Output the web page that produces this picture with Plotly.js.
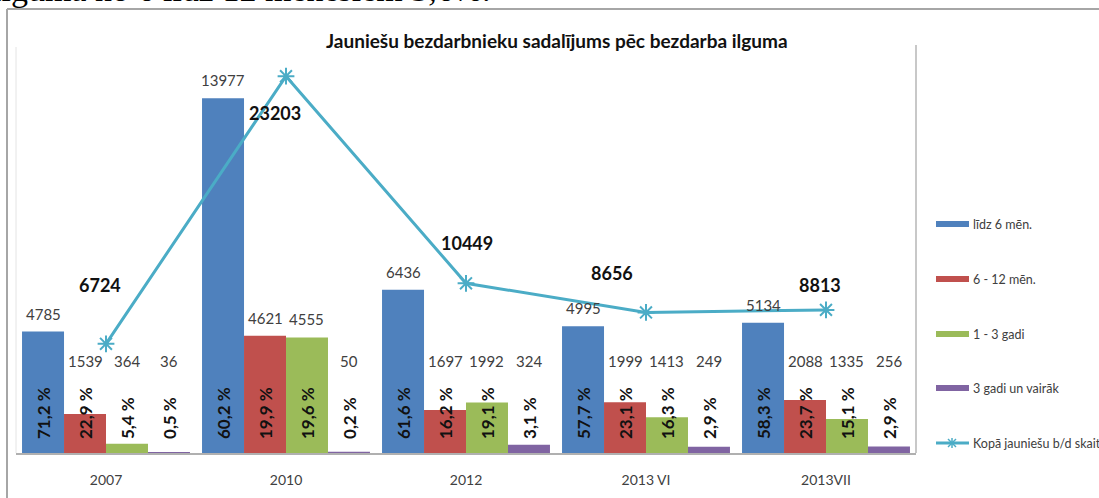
<!DOCTYPE html>
<html>
<head>
<meta charset="utf-8">
<script src="https://cdn.plot.ly/plotly-3.0.1.min.js"></script>
<style>html,body{margin:0;padding:0;background:#fff;}#chart{width:1099px;height:498px;}</style>
</head>
<body>
<div id="chart"></div>
<script>
// ---- data ----
var categories = ["2007", "2010", "2012", "2013 VI", "2013VII"];
var seriesNames = ["līdz 6 mēn.", "6 - 12 mēn.", "1 - 3 gadi", "3 gadi un vairāk"];
var lineName = "Kopā jauniešu b/d skait";
var upTo6 = [4785, 13977, 6436, 4995, 5134];
var m6to12 = [1539, 4621, 1697, 1999, 2088];
var y1to3 = [364, 4555, 1992, 1413, 1335];
var y3plus = [36, 50, 324, 249, 256];
var pctUpTo6 = ["71,2 %", "60,2 %", "61,6 %", "57,7 %", "58,3 %"];
var pct6to12 = ["22,9 %", "19,9 %", "16,2 %", "23,1 %", "23,7 %"];
var pct1to3 = ["5,4 %", "19,6 %", "19,1 %", "16,3 %", "15,1 %"];
var pct3plus = ["0,5 %", "0,2 %", "3,1 %", "2,9 %", "2,9 %"];
var totals = [6724, 23203, 10449, 8656, 8813];
var titleText = "Jauniešu bezdarbnieku sadalījums pēc bezdarba ilguma";
var topText = "ilguma no 6 līdz 12 mēnešiem 3,6%.";

// ---- style ----
var colors = ["#4F81BD", "#C0504D", "#9BBB59", "#8064A2"];
var lineColor = "#4BACC6";
var FONT = "Lato, 'Open Sans', sans-serif";
var bargap = 0.067;
var yMax = 16000, y2Max = 25000;
var labelFloor = 2900;
// total-label offsets in px (dx, dy)
var totalShift = [[-6, 59], [-11, -37], [1, 40], [-34, 39], [-6, 25]];

// plot-area pixel geometry
var L = 16, T = 47, W = 900, H = 406;
function px(x) { return (x - L) / W; }
function py(y) { return (T + H - y) / H; }

var valueSeries = [upTo6, m6to12, y1to3, y3plus];
var pctSeries = [pctUpTo6, pct6to12, pct1to3, pct3plus];

var traces = [];
for (var s = 0; s < 4; s++) {
  traces.push({
    type: "bar", name: seriesNames[s], x: categories, y: valueSeries[s],
    marker: {color: colors[s]}, showlegend: false, hoverinfo: "x+y+name"
  });
}
traces.push({
  type: "scatter", mode: "lines+markers", name: lineName, x: categories, y: totals,
  yaxis: "y2", line: {color: lineColor, width: 3},
  marker: {symbol: "asterisk-open", size: 14, line: {color: lineColor, width: 2}, color: lineColor},
  showlegend: false, cliponaxis: false
});

var annotations = [];
var nS = 4;
var bw = (1 - bargap) / nS;
for (var s = 0; s < nS; s++) {
  var off = (s - (nS - 1) / 2) * bw;
  for (var i = 0; i < categories.length; i++) {
    var v = valueSeries[s][i];
    annotations.push({
      x: i + off, y: Math.max(v, labelFloor), xref: "x", yref: "y",
      text: String(v), showarrow: false, yanchor: "bottom", yshift: 7,
      font: {family: FONT, size: 15, color: "#404040"}
    });
    annotations.push({
      x: i + off, y: 0, xref: "x", yref: "y",
      text: pctSeries[s][i], showarrow: false, yanchor: "bottom", yshift: 12,
      textangle: -90, font: {family: FONT, size: 17, color: "#111", weight: "bold"}
    });
  }
}
for (var i = 0; i < categories.length; i++) {
  annotations.push({
    x: i, y: totals[i], xref: "x", yref: "y2", text: "<b>" + totals[i] + "</b>",
    showarrow: false, xshift: totalShift[i][0], yshift: totalShift[i][1],
    font: {family: FONT, size: 18, color: "#111"}
  });
}
// title
annotations.push({
  xref: "paper", yref: "paper", x: px(557), y: py(41), xanchor: "center", yanchor: "middle",
  text: "<b>" + titleText + "</b>",
  showarrow: false, font: {family: FONT, size: 19, color: "#111"}
});
// clipped text at top (cut off in the reference too)
annotations.push({
  xref: "paper", yref: "paper", x: px(-10), y: py(9.5), xanchor: "left", yanchor: "bottom",
  text: topText, showarrow: false, font: {family: "'Liberation Serif', serif", size: 34, color: "#000"}
});

var shapes = [];
// chart border
shapes.push({type: "line", xref: "paper", yref: "paper", x0: px(7), x1: px(1110), y0: py(9), y1: py(9), line: {color: "#a6a6a6", width: 2}});
shapes.push({type: "line", xref: "paper", yref: "paper", x0: px(7), x1: px(7), y0: py(9), y1: py(510), line: {color: "#a6a6a6", width: 2}});
// plot area edges
shapes.push({type: "line", xref: "paper", yref: "paper", x0: 1, x1: 1, y0: 0, y1: py(45), line: {color: "#c8c8c8", width: 2}});
shapes.push({type: "line", xref: "paper", yref: "paper", x0: 0, x1: 0, y0: 0, y1: 1, line: {color: "#e4e4e4", width: 1}});

// custom legend
var legY = [224, 279, 334, 388, 443];
var allNames = seriesNames.concat([lineName]);
for (var k = 0; k < 5; k++) {
  if (k < 4) {
    shapes.push({type: "rect", xref: "paper", yref: "paper", x0: px(936), x1: px(969),
      y0: py(legY[k] + 3), y1: py(legY[k] - 3), fillcolor: colors[k], line: {width: 0}});
  } else {
    shapes.push({type: "line", xref: "paper", yref: "paper", x0: px(936), x1: px(969),
      y0: py(legY[k]), y1: py(legY[k]), line: {color: lineColor, width: 3}});
    var cx = 952, cy = legY[k];
    shapes.push({type: "line", xref: "paper", yref: "paper", x0: px(cx - 4), x1: px(cx + 4), y0: py(cy - 4), y1: py(cy + 4), line: {color: lineColor, width: 1.5}});
    shapes.push({type: "line", xref: "paper", yref: "paper", x0: px(cx - 4), x1: px(cx + 4), y0: py(cy + 4), y1: py(cy - 4), line: {color: lineColor, width: 1.5}});
    shapes.push({type: "line", xref: "paper", yref: "paper", x0: px(cx), x1: px(cx), y0: py(cy - 5), y1: py(cy + 5), line: {color: lineColor, width: 1.5}});
  }
  annotations.push({
    xref: "paper", yref: "paper", x: px(971), y: py(legY[k]), xanchor: "left", yanchor: "middle",
    text: allNames[k], showarrow: false, font: {family: FONT, size: 12.5, color: "#404040"}
  });
}

var layout = {
  width: 1099, height: 498,
  margin: {l: L, r: 1099 - L - W, t: T, b: 498 - T - H, pad: 0},
  paper_bgcolor: "#fff", plot_bgcolor: "#fff",
  barmode: "group", bargap: bargap, bargroupgap: 0,
  showlegend: false,
  font: {family: FONT, color: "#404040"},
  xaxis: {type: "category", showgrid: false, zeroline: false, showline: true, linecolor: "#b0b0b0", linewidth: 1.5,
    ticks: "", tickfont: {family: FONT, size: 14, color: "#404040"}, ticklabelstandoff: 14, fixedrange: true},
  yaxis: {range: [0, yMax], visible: false, showgrid: false, zeroline: false, fixedrange: true},
  yaxis2: {range: [0, y2Max], overlaying: "y", side: "right", visible: false, showgrid: false, zeroline: false},
  annotations: annotations,
  shapes: shapes
};

Plotly.newPlot("chart", traces, layout, {displayModeBar: false, staticPlot: true});
</script>
</body>
</html>
